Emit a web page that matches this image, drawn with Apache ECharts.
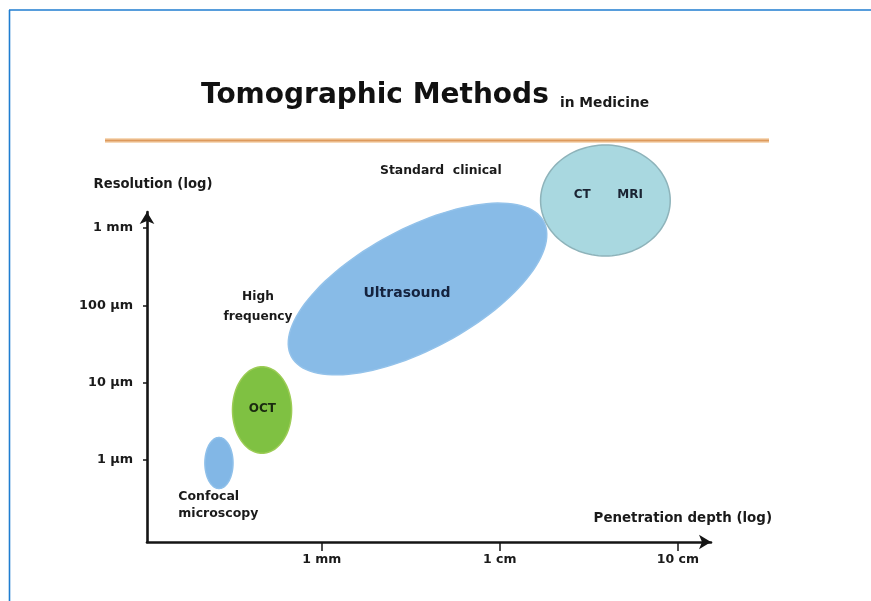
<!DOCTYPE html>
<html>
<head>
<meta charset="utf-8">
<script src="https://cdn.jsdelivr.net/npm/echarts@6/dist/echarts.min.js"></script>
<style>
html,body{margin:0;padding:0;background:#ffffff;}
#chart{width:871px;height:601px;}
</style>
</head>
<body>
<div id="chart"></div>
<script>
// Axes are in log10 units: depth in log10(mm), resolution in log10(µm)
const xTickValues = [0, 1, 2];
const xTickLabels = ['1 mm', '1 cm', '10 cm'];
const yTickValues = [0, 1, 2, 3];
const yTickLabels = ['1 µm', '10 µm', '100 µm', '1 mm'];

// Method regions: centre and two half-axis vectors, all in log10 units
const methods    = ['Confocal microscopy', 'OCT', 'Ultrasound', 'CT / MRI'];
const centerDepth = [-0.577, -0.335, 0.538, 1.593];
const centerRes   = [-0.040, 0.646, 2.212, 3.357];
const halfUDepth  = [0.079, 0.166, 0.708, 0.364];
const halfURes    = [0, 0, 0.875, 0];
const halfVDepth  = [0, 0, 0.160, 0];
const halfVRes    = [0.330, 0.560, -0.685, 0.718];

// Annotation texts anchored at data coordinates
const labelTexts = ['Confocal\nmicroscopy', 'OCT', 'High\nfrequency', 'Ultrasound', 'Standard  clinical', 'CT', 'MRI'];
const labelDepth = [-0.805, -0.333, -0.358, 0.479, 0.669, 1.4625, 1.732];
const labelRes   = [-0.589, 0.655, 1.979, 2.160, 3.743, 3.428, 3.428];

const FONT = 'DejaVu Sans';
const regionFill = ['#82b7e6', '#7fc142', '#88bbe7', '#a9d8e0'];
const regionStroke = ['#8fc0ea', '#9ccc55', '#93c2ea', '#8eb3ba'];
const labelStyle = [
  {align: 'left', fontSize: 12.5, color: '#1a1a1a', lineHeight: 17},
  {align: 'center', fontSize: 12, color: '#1a2a10', lineHeight: 15},
  {align: 'center', fontSize: 12.2, color: '#1a1a1a', lineHeight: 19.5},
  {align: 'center', fontSize: 14, color: '#15233f', lineHeight: 16},
  {align: 'center', fontSize: 12.4, color: '#1a1a1a', lineHeight: 15},
  {align: 'center', fontSize: 12, color: '#1b2433', lineHeight: 15},
  {align: 'center', fontSize: 12, color: '#1b2433', lineHeight: 15}
];

const regionData = methods.map((m, i) => ({
  name: m,
  value: [centerDepth[i], centerRes[i], halfUDepth[i], halfURes[i], halfVDepth[i], halfVRes[i]]
}));
const labelData = labelTexts.map((t, i) => ({name: t, value: [labelDepth[i], labelRes[i]]}));

const chart = echarts.init(document.getElementById('chart'), null, {renderer: 'canvas'});

const option = {
  backgroundColor: '#ffffff',
  animation: false,
  title: [
    {
      text: 'Tomographic Methods', left: 201, top: 82, padding: 0,
      textStyle: {fontFamily: FONT, fontWeight: 'bold', fontSize: 28, color: '#111111'}
    },
    {
      text: 'in Medicine', left: 560, top: 96, padding: 0,
      textStyle: {fontFamily: FONT, fontWeight: 'bold', fontSize: 13.8, color: '#1a1a1a'}
    }
  ],
  grid: {left: 147, right: 160, top: 212, bottom: 59, containLabel: false, outerBoundsMode: 'none'},
  xAxis: {
    type: 'value', min: -0.981, max: 2.186,
    splitLine: {show: false},
    axisLine: {onZero: false, lineStyle: {color: '#151515', width: 2.6}, symbol: ['none', 'arrow'], symbolSize: [11, 12]},
    axisTick: {show: true, customValues: xTickValues, length: 9, lineStyle: {color: '#151515', width: 1.5}},
    axisLabel: {
      customValues: xTickValues, margin: 11,
      fontFamily: FONT, fontWeight: 'bold', fontSize: 12.5, color: '#1a1a1a',
      formatter: v => xTickLabels[xTickValues.indexOf(Math.round(v))] || ''
    },
    name: 'Penetration depth (log)', nameLocation: 'end', nameGap: 61,
    nameTextStyle: {fontFamily: FONT, fontWeight: 'bold', fontSize: 13.4, color: '#1a1a1a',
      align: 'right', verticalAlign: 'bottom', padding: [0, 0, 17, 0]}
  },
  yAxis: {
    type: 'value', min: -1.062, max: 3.208,
    splitLine: {show: false},
    axisLine: {onZero: false, lineStyle: {color: '#151515', width: 2.6}, symbol: ['none', 'arrow'], symbolSize: [11, 12]},
    axisTick: {show: true, customValues: yTickValues, length: 4, lineStyle: {color: '#151515', width: 1.5}},
    axisLabel: {
      customValues: yTickValues, margin: 14,
      fontFamily: FONT, fontWeight: 'bold', fontSize: 12.8, color: '#1a1a1a',
      formatter: v => yTickLabels[yTickValues.indexOf(Math.round(v))] || ''
    },
    name: 'Resolution (log)', nameLocation: 'end', nameGap: 21,
    nameTextStyle: {fontFamily: FONT, fontWeight: 'bold', fontSize: 13.2, color: '#1a1a1a',
      align: 'center', padding: [0, 0, 0, 12]}
  },
  graphic: [
    {type: 'line', shape: {x1: 9, y1: 10, x2: 871, y2: 10}, style: {stroke: '#1f7dd0', lineWidth: 1.6}, z: 100},
    {type: 'line', shape: {x1: 9.5, y1: 10, x2: 9.5, y2: 601}, style: {stroke: '#1f7dd0', lineWidth: 1.6}, z: 100},
    {type: 'line', shape: {x1: 105, y1: 140.5, x2: 769, y2: 140.5}, style: {stroke: '#f6d9b8', lineWidth: 5}, z: 1},
    {type: 'line', shape: {x1: 105, y1: 140.5, x2: 769, y2: 140.5}, style: {stroke: '#dd9a5c', lineWidth: 2.2}, z: 2}
  ],
  series: [
    {
      type: 'custom', name: 'regions', clip: false,
      data: regionData,
      encode: {x: 0, y: 1},
      renderItem: function (params, api) {
        const cx = api.value(0), cy = api.value(1);
        const ux = api.value(2), uy = api.value(3);
        const vx = api.value(4), vy = api.value(5);
        const pts = [];
        const n = 120;
        for (let k = 0; k < n; k++) {
          const t = 2 * Math.PI * k / n;
          pts.push(api.coord([cx + ux * Math.cos(t) + vx * Math.sin(t), cy + uy * Math.cos(t) + vy * Math.sin(t)]));
        }
        const i = params.dataIndex;
        return {
          type: 'polygon',
          shape: {points: pts},
          style: {fill: regionFill[i], stroke: regionStroke[i], lineWidth: 1.5}
        };
      }
    },
    {
      type: 'custom', name: 'labels', clip: false, z: 5,
      data: labelData,
      encode: {x: 0, y: 1},
      renderItem: function (params, api) {
        const p = api.coord([api.value(0), api.value(1)]);
        const s = labelStyle[params.dataIndex];
        return {
          type: 'text',
          x: p[0], y: p[1],
          style: {
            text: labelTexts[params.dataIndex],
            fill: s.color,
            font: 'bold ' + s.fontSize + 'px "' + FONT + '"',
            align: s.align, verticalAlign: 'middle', lineHeight: s.lineHeight
          }
        };
      }
    }
  ]
};
chart.setOption(option);
</script>
</body>
</html>
